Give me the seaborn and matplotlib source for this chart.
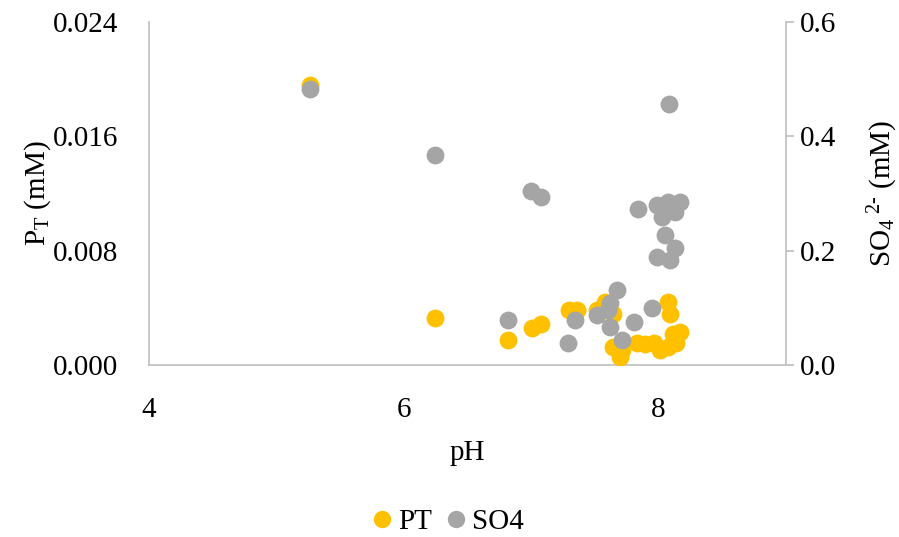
import matplotlib
matplotlib.use("Agg")
import matplotlib.pyplot as plt
from matplotlib.lines import Line2D
import seaborn as sns

# Total phosphorus samples: pH and P_T (mM)
ph_pt = [5.26, 6.245, 6.82, 7.01, 7.08, 7.30, 7.36, 7.52, 7.58, 7.64,
         7.64, 7.70, 7.71, 7.83, 7.89, 7.96, 8.01, 8.07, 8.07, 8.09,
         8.11, 8.17, 8.14]
pt = [0.0196, 0.0033, 0.00175, 0.0026, 0.0029, 0.00385, 0.00385, 0.00385,
      0.0044, 0.0036, 0.00126, 0.00056, 0.00105, 0.00154, 0.00147, 0.00154,
      0.00105, 0.00126, 0.0044, 0.0036, 0.0022, 0.0023, 0.00154]

# Sulfate samples: pH and SO4 2- (mM)
ph_so4 = [5.26, 6.245, 6.82, 7.00, 7.08, 7.29, 7.34, 7.52, 7.60, 7.62,
          7.67, 7.62, 7.71, 7.81, 7.95, 8.08, 7.84, 7.99, 8.07, 8.17,
          8.03, 8.13, 8.05, 8.13, 7.99, 8.09]
so4 = [0.483, 0.367, 0.079, 0.304, 0.294, 0.038, 0.079, 0.087, 0.096, 0.108,
       0.131, 0.066, 0.044, 0.075, 0.100, 0.457, 0.273, 0.280, 0.285, 0.285,
       0.259, 0.268, 0.227, 0.205, 0.189, 0.184]

x_ticks = [4, 6, 8]
pt_ticks = [0.000, 0.008, 0.016, 0.024]
so4_ticks = [0.0, 0.2, 0.4, 0.6]
series_names = ["PT", "SO4"]

PT_COLOR = "#FFC000"
SO4_COLOR = "#A5A5A5"
AXIS_COLOR = "#BFBFBF"
FS = 21

sns.set_theme(style="white")
plt.rcParams["font.family"] = ["Liberation Serif", "DejaVu Serif"]
plt.rcParams["mathtext.fontset"] = "custom"
plt.rcParams["mathtext.rm"] = "Liberation Serif"
plt.rcParams["mathtext.it"] = "Liberation Serif:italic"
plt.rcParams["text.color"] = "black"
plt.rcParams["axes.labelcolor"] = "black"

fig = plt.figure(figsize=(8.99, 5.37), dpi=100)
ax = fig.add_axes([149 / 899, 1 - 365 / 537, (786 - 149) / 899, (365 - 22) / 537])
ax2 = ax.twinx()

sns.scatterplot(x=ph_pt, y=pt, ax=ax, color=PT_COLOR, s=165,
                linewidth=0, legend=False, zorder=3)
sns.scatterplot(x=ph_so4, y=so4, ax=ax2, color=SO4_COLOR, s=165,
                linewidth=0, legend=False, zorder=3)

ax.set_xlim(4, 9)
ax.set_ylim(0, 0.024)
ax2.set_ylim(0, 0.6)

ax.set_xticks(x_ticks)
ax.set_xticklabels([str(v) for v in x_ticks])
ax.set_yticks(pt_ticks)
ax.set_yticklabels([f"{v:.3f}" for v in pt_ticks])
ax2.set_yticks(so4_ticks)
ax2.set_yticklabels([f"{v:.1f}" for v in so4_ticks])

for name in ["top", "right"]:
    ax.spines[name].set_visible(False)
for name in ["left", "bottom"]:
    ax.spines[name].set_color(AXIS_COLOR)
    ax.spines[name].set_linewidth(1.2)
for name in ["top", "left", "bottom"]:
    ax2.spines[name].set_visible(False)
ax2.spines["right"].set_color(AXIS_COLOR)
ax2.spines["right"].set_linewidth(1.2)

ax.tick_params(axis="x", length=0, labelsize=FS, pad=23, colors="black")
ax.tick_params(axis="y", length=0, labelsize=FS, pad=22, colors="black")
ax2.tick_params(axis="y", length=6, width=1.2, color=AXIS_COLOR,
                labelsize=FS, pad=4, labelcolor="black")
ax.grid(False)
ax2.grid(False)

ax.set_xlabel("pH", fontsize=FS, labelpad=12, color="black")
ax.set_ylabel(r"$\mathregular{P_T}$ (mM)", fontsize=FS, labelpad=0,
              color="black")
ax2.set_ylabel(r"$\mathregular{SO_4}$$\mathregular{^{\ 2\text{-}}}$ (mM)",
               fontsize=FS, labelpad=21, rotation=90, color="black")

handles = [
    Line2D([], [], marker="o", linestyle="", markersize=12.5,
           markerfacecolor=PT_COLOR, markeredgewidth=0),
    Line2D([], [], marker="o", linestyle="", markersize=12.5,
           markerfacecolor=SO4_COLOR, markeredgewidth=0),
]
fig.legend(handles, series_names, loc="center",
           bbox_to_anchor=(447 / 899, 1 - 522 / 537), ncol=2, frameon=False,
           fontsize=FS, handlelength=0.8, handletextpad=0.15,
           columnspacing=0.4, borderaxespad=0)

fig.savefig("out.png", dpi=100, facecolor="white")
